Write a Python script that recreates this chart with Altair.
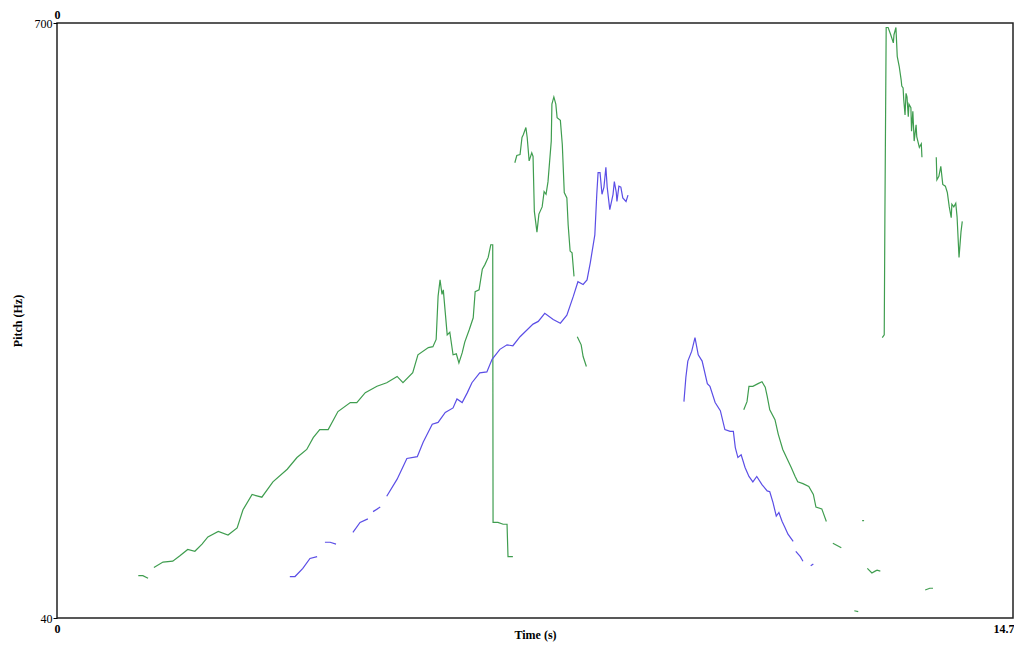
import altair as alt
import pandas as pd

# ---- data: (time s, pitch Hz), one list per voiced stretch ----
green_1 = [(1.25, 87), (1.32, 87), (1.40, 84)]
green_2 = [(1.49, 96), (1.63, 102), (1.78, 103), (1.89, 109), (2.01, 116), (2.12, 114),
           (2.23, 122), (2.32, 130), (2.48, 136), (2.63, 132), (2.77, 140), (2.86, 160),
           (3.00, 177), (3.15, 174), (3.32, 191), (3.54, 205), (3.69, 218), (3.84, 227),
           (3.94, 240), (4.04, 249), (4.17, 249), (4.32, 269), (4.51, 279), (4.61, 279),
           (4.74, 290), (4.92, 297), (5.07, 301), (5.23, 308), (5.32, 301), (5.47, 312),
           (5.55, 332), (5.71, 340), (5.78, 341), (5.83, 349), (5.86, 397), (5.89, 415),
           (5.92, 399), (5.94, 404), (5.97, 379), (6.00, 354), (6.04, 357), (6.09, 332),
           (6.14, 333), (6.18, 323), (6.23, 334), (6.27, 346), (6.34, 360), (6.40, 373),
           (6.43, 402), (6.49, 404), (6.54, 427), (6.58, 432), (6.63, 440), (6.67, 454),
           (6.70, 454), (6.705, 146), (6.78, 146), (6.86, 144), (6.92, 144), (6.935, 108),
           (7.01, 108)]
green_3 = [(7.04, 545), (7.07, 553), (7.12, 554), (7.15, 573), (7.17, 576), (7.21, 584),
           (7.23, 573), (7.26, 547), (7.30, 556), (7.32, 552), (7.34, 491), (7.38, 468),
           (7.41, 488), (7.46, 496), (7.49, 513), (7.52, 510), (7.55, 524), (7.60, 569),
           (7.61, 610), (7.64, 618), (7.67, 610), (7.69, 595), (7.74, 592), (7.77, 565),
           (7.80, 512), (7.84, 506), (7.86, 476), (7.89, 447), (7.92, 445), (7.95, 419)]
green_4 = [(8.00, 352), (8.06, 343), (8.09, 330), (8.14, 319)]
green_5 = [(10.56, 271), (10.61, 280), (10.64, 297), (10.70, 297), (10.78, 300), (10.84, 302),
           (10.89, 296), (10.92, 286), (10.96, 271), (11.04, 260), (11.09, 244), (11.16, 227),
           (11.23, 216), (11.29, 207), (11.35, 197), (11.39, 191), (11.47, 189), (11.56, 186),
           (11.63, 177), (11.67, 163), (11.76, 161), (11.83, 147)]
green_6 = [(11.93, 123), (12.06, 118)]
green_7 = [(12.38, 148), (12.41, 148)]
green_8 = [(12.26, 48), (12.32, 47)]
green_9 = [(12.46, 95), (12.53, 90), (12.58, 92), (12.61, 93), (12.66, 92)]
green_10 = [(13.35, 71), (13.42, 73), (13.47, 73)]
green_11 = [(12.69, 351), (12.72, 354), (12.73, 482), (12.75, 695), (12.78, 695), (12.82, 687),
            (12.86, 678), (12.87, 687), (12.90, 695), (12.92, 663), (12.95, 652), (12.98, 637),
            (12.99, 630), (13.01, 628), (13.02, 615), (13.04, 598), (13.055, 622), (13.07, 618),
            (13.09, 596), (13.10, 610), (13.13, 606), (13.14, 580), (13.16, 602), (13.18, 569),
            (13.21, 587), (13.22, 574), (13.26, 562), (13.29, 566), (13.30, 551)]
green_12 = [(13.52, 551), (13.53, 526), (13.56, 530), (13.59, 541), (13.62, 521), (13.66, 519),
            (13.69, 512), (13.72, 496), (13.75, 484), (13.76, 499), (13.79, 496), (13.82, 500),
            (13.84, 485), (13.87, 440), (13.90, 468), (13.92, 480)]

blue_1 = [(3.58, 86), (3.66, 86), (3.78, 95), (3.89, 106), (4.00, 108)]
blue_2 = [(4.12, 124), (4.20, 124), (4.29, 122)]
blue_3 = [(4.55, 135), (4.66, 146), (4.78, 150)]
blue_4 = [(4.86, 158), (4.97, 163)]
blue_5 = [(5.07, 175), (5.23, 194), (5.38, 217), (5.54, 219), (5.63, 235), (5.77, 255),
          (5.86, 257), (5.97, 268), (6.09, 273), (6.15, 283), (6.23, 279), (6.31, 290),
          (6.38, 301), (6.50, 312), (6.61, 313), (6.69, 327), (6.81, 338), (6.92, 343),
          (7.01, 342), (7.12, 352), (7.32, 366), (7.40, 369), (7.50, 378), (7.63, 371),
          (7.74, 367), (7.84, 376), (7.94, 397), (8.01, 413), (8.09, 410), (8.15, 415),
          (8.20, 434), (8.27, 465), (8.30, 510), (8.32, 534), (8.35, 534), (8.38, 510),
          (8.41, 518), (8.44, 540), (8.46, 518), (8.50, 493), (8.55, 510), (8.57, 524),
          (8.60, 512), (8.61, 502), (8.64, 519), (8.67, 518), (8.70, 506), (8.75, 502),
          (8.78, 509)]
blue_6 = [(9.64, 280), (9.67, 307), (9.70, 325), (9.76, 336), (9.81, 351), (9.86, 332),
          (9.92, 325), (10.00, 300), (10.04, 297), (10.12, 279), (10.20, 270), (10.27, 249),
          (10.35, 247), (10.40, 247), (10.43, 229), (10.47, 218), (10.52, 221), (10.58, 207),
          (10.64, 197), (10.70, 191), (10.76, 197), (10.84, 188), (10.92, 181), (10.96, 180),
          (11.01, 168), (11.06, 153), (11.10, 157), (11.15, 147), (11.19, 141), (11.24, 133),
          (11.32, 125)]
blue_7 = [(11.36, 114), (11.43, 108), (11.47, 103)]
blue_8 = [(11.59, 98), (11.63, 100)]

series = {
    "green": [green_1, green_2, green_3, green_4, green_5, green_6, green_7, green_8,
              green_9, green_10, green_11, green_12],
    "blue": [blue_1, blue_2, blue_3, blue_4, blue_5, blue_6, blue_7, blue_8],
}

x_ticks = [0, 14.7]
y_ticks = [40, 700]
x_top_ticks = [0]

rows = []
for name, segs in series.items():
    for si, seg in enumerate(segs):
        for oi, (t, hz) in enumerate(seg):
            rows.append({"series": name, "seg": f"{name}-{si}", "ord": oi, "t": t, "hz": hz})
df = pd.DataFrame(rows)

FONT = "Liberation Serif"
LABEL_EXPR = "datum.value == 0 ? '0' : format(datum.value, '.1f')"

xscale = alt.Scale(domain=[0, 14.7], nice=False, zero=False)
yscale = alt.Scale(domain=[40, 700], nice=False, zero=False)

y_enc = alt.Y(
    "hz:Q", scale=yscale, title="Pitch (Hz)",
    axis=alt.Axis(values=y_ticks, domain=False, grid=False, tickSize=4, tickColor="#000",
                  tickWidth=1, labelPadding=1, labelFont=FONT, labelFontSize=12,
                  labelFontWeight="normal", labelColor="#000", titleFont=FONT,
                  titleFontSize=12, titleFontWeight="bold", titleColor="#000",
                  titlePadding=10),
)

lines = alt.Chart(df).mark_line(strokeWidth=1.2, interpolate="linear").encode(
    x=alt.X("t:Q", scale=xscale, title="Time (s)",
            axis=alt.Axis(values=x_ticks, labelExpr=LABEL_EXPR, domain=False, grid=False,
                          ticks=False, labelPadding=5, labelFont=FONT, labelFontSize=12,
                          labelFontWeight="bold", labelColor="#000", labelFlush=False,
                          labelAlign={"expr": "datum.value == 0 ? 'center' : 'right'"},
                          labelOffset={"expr": "datum.value == 0 ? 0 : 1"},
                          titleFont=FONT, titleFontSize=12, titleFontWeight="bold",
                          titleColor="#000", titleBaseline="alphabetic", titleY=20)),
    y=y_enc,
    color=alt.Color("series:N", scale=alt.Scale(domain=["green", "blue"],
                                                range=["#3f9d4f", "#5b4ee6"]), legend=None),
    detail="seg:N",
    order="ord:Q",
)

top = alt.Chart(df).mark_point(opacity=0).encode(
    x=alt.X("t:Q", scale=xscale, title=None,
            axis=alt.Axis(orient="top", values=x_top_ticks, domain=False, grid=False,
                          ticks=False, labelPadding=2, labelFont=FONT, labelFontSize=12,
                          labelFontWeight="bold", labelColor="#000", labelFlush=False)),
    y=y_enc,
)

chart = alt.layer(lines, top).resolve_axis(x="independent").properties(
    width=956, height=595,
    background="white",
    autosize=alt.AutoSizeParams(type="none"),
    padding={"left": 49, "top": 15, "right": 1, "bottom": 24},
).configure_view(stroke="#222", strokeWidth=1.5)

chart.save("out.html", embed_options={"renderer": "svg", "actions": False})
